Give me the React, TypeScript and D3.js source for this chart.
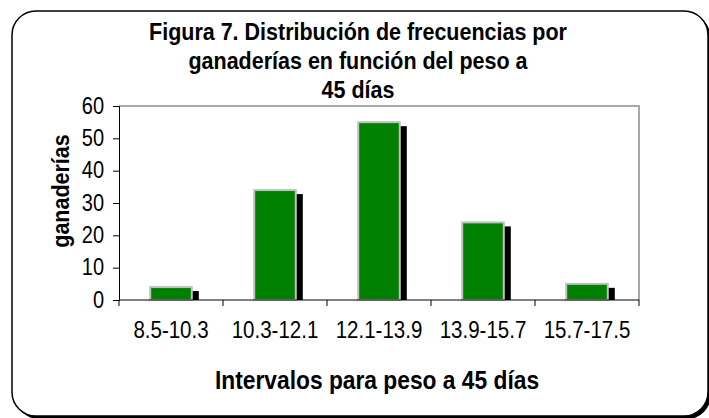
import React, { useRef, useEffect } from 'react';
import * as d3 from 'd3';

const intervals = ['8.5-10.3', '10.3-12.1', '12.1-13.9', '13.9-15.7', '15.7-17.5'];
const herds = [4, 34, 55, 24, 5];
const yTicks = [0, 10, 20, 30, 40, 50, 60];
const titleLines = [
  'Figura 7. Distribución de frecuencias por',
  'ganaderías en función del peso a',
  '45 días',
];

const FONT = '"Liberation Sans", Arial, sans-serif';
const STRETCH = 1.15; // exported text looks a bit taller than wide

const App = () => {
  const ref = useRef<SVGSVGElement | null>(null);

  useEffect(() => {
    if (!ref.current) return;
    const svg = d3.select(ref.current);
    svg.selectAll('*').remove();

    const W = 709;
    const H = 418;
    const plot = { left: 119, right: 639, top: 106, bottom: 300 };

    // Chart frame with shadow
    svg.append('rect')
      .attr('x', 15).attr('y', 14)
      .attr('width', 696).attr('height', 405)
      .attr('rx', 24)
      .attr('fill', '#000');
    svg.append('rect')
      .attr('x', 12).attr('y', 11)
      .attr('width', 696).attr('height', 405)
      .attr('rx', 24)
      .attr('fill', '#fff')
      .attr('stroke', '#000')
      .attr('stroke-width', 1.5);

    // Title
    svg.append('g')
      .selectAll('text')
      .data(titleLines)
      .enter()
      .append('text')
      .attr('transform', (d, i) => `translate(358,${40 + i * 29}) scale(1,${STRETCH})`)
      .attr('text-anchor', 'middle')
      .attr('font-family', FONT)
      .attr('font-weight', 'bold')
      .attr('font-size', 21.5)
      .text(d => d);

    const x = d3.scaleBand<string>()
      .domain(intervals)
      .range([plot.left, plot.right])
      .padding(0);

    const y = d3.scaleLinear()
      .domain([0, 60])
      .range([plot.bottom, plot.top]);

    const barW = x.bandwidth() / 2.5;

    // Plot border (top / right gray)
    svg.append('path')
      .attr('d', `M${plot.left},${plot.top}H${plot.right}V${plot.bottom}`)
      .attr('fill', 'none')
      .attr('stroke', '#a8a8a8')
      .attr('stroke-width', 2);

    // Bars: shadow then bar
    const bars = svg.append('g');
    bars.selectAll('rect.shadow')
      .data(herds)
      .enter()
      .append('rect')
      .attr('class', 'shadow')
      .attr('x', (d, i) => (x(intervals[i]) as number) + (x.bandwidth() - barW) / 2 + 7)
      .attr('y', d => y(d) + 4)
      .attr('width', barW)
      .attr('height', d => Math.max(0, plot.bottom - y(d) - 4))
      .attr('fill', '#000');

    bars.selectAll('rect.bar')
      .data(herds)
      .enter()
      .append('rect')
      .attr('class', 'bar')
      .attr('x', (d, i) => (x(intervals[i]) as number) + (x.bandwidth() - barW) / 2)
      .attr('y', d => y(d))
      .attr('width', barW)
      .attr('height', d => plot.bottom - y(d))
      .attr('fill', '#008000')
      .attr('stroke', '#c0c0c0')
      .attr('stroke-width', 2);

    // Y axis
    const yAxis = svg.append('g')
      .attr('transform', `translate(${plot.left},0)`)
      .call(d3.axisLeft(y).tickValues(yTicks).tickSize(6).tickPadding(9));
    yAxis.select('.domain').attr('stroke', '#000');
    yAxis.selectAll('.tick line').attr('stroke', '#000');
    yAxis.selectAll('.tick text')
      .attr('font-family', FONT)
      .attr('font-size', 20)
      .attr('fill', '#000')
      .attr('dy', null)
      .attr('x', null)
      .attr('transform', `translate(-15,7) scale(1,${STRETCH})`);

    // X axis
    const xAxis = svg.append('g')
      .attr('transform', `translate(0,${plot.bottom})`)
      .call(d3.axisBottom(x).tickSize(0).tickPadding(0));
    xAxis.select('.domain').attr('stroke', '#000').attr('d', `M${plot.left},0H${plot.right}`);
    xAxis.selectAll('.tick line').remove();
    xAxis.selectAll('.tick text')
      .attr('font-family', FONT)
      .attr('font-size', 20.5)
      .attr('fill', '#000')
      .attr('dy', null)
      .attr('y', null)
      .attr('transform', `translate(0,38) scale(1,${STRETCH})`);

    // Category boundary ticks
    const bounds = intervals.map(c => x(c) as number).concat([plot.right]);
    xAxis.selectAll('line.bound')
      .data(bounds)
      .enter()
      .append('line')
      .attr('class', 'bound')
      .attr('x1', d => d).attr('x2', d => d)
      .attr('y1', 0).attr('y2', 6)
      .attr('stroke', '#000');

    // Axis titles
    svg.append('text')
      .attr('transform', `translate(377,389) scale(1,${STRETCH})`)
      .attr('text-anchor', 'middle')
      .attr('font-family', FONT)
      .attr('font-weight', 'bold')
      .attr('font-size', 22.8)
      .text('Intervalos para peso a 45 días');

    svg.append('text')
      .attr('transform', `translate(69,191) rotate(-90) scale(1,${STRETCH})`)
      .attr('text-anchor', 'middle')
      .attr('font-family', FONT)
      .attr('font-weight', 'bold')
      .attr('font-size', 21.5)
      .text('ganaderías');

    svg.attr('width', W).attr('height', H);
  }, []);

  return (
    <svg
      ref={ref}
      width={709}
      height={418}
      style={{ position: 'absolute', left: 0, top: 0, background: '#fff' }}
    />
  );
};

export default App;
